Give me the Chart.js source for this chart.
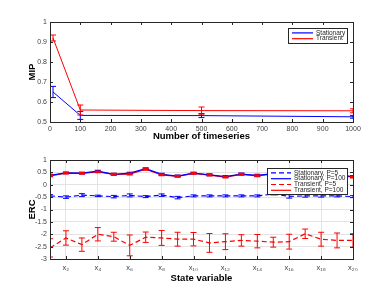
<!DOCTYPE html>
<html>
<head>
<meta charset="utf-8">
<script src="https://cdn.jsdelivr.net/npm/chart.js@4.4.1/dist/chart.umd.min.js"></script>
<style>
  html, body { margin: 0; padding: 0; background: #fff; }
  #wrap { position: relative; width: 390px; height: 293px; overflow: hidden; }
  canvas { position: absolute; left: 0; }
  #top { top: 0; }
  #bottom { top: 145px; }
</style>
</head>
<body>
<div id="wrap">
  <canvas id="top" width="390" height="145"></canvas>
  <canvas id="bottom" width="390" height="148"></canvas>
</div>
<script>
// ---------- Data: top panel (MIP vs number of timeseries) ----------
const nSeries = [10, 100, 500, 1000];
const mipStationary = [0.650, 0.533, 0.532, 0.526];
const mipStationaryErr = [0.028, 0.020, 0.010, 0.007];
const mipTransient = [0.920, 0.560, 0.557, 0.556];
const mipTransientErr = [0.015, 0.025, 0.018, 0.010];
const topTicksX = [0, 100, 200, 300, 400, 500, 600, 700, 800, 900, 1000];

// ---------- Data: bottom panel (ERC per state variable) ----------
const stateVars = Array.from({ length: 20 }, (_, i) => i + 1);
const subDigits = "₀₁₂₃₄₅₆₇₈₉";
const stateLabels = stateVars.map(n => "x" + String(n).split("").map(d => subDigits[+d]).join(""));
const labeledVars = [2, 4, 6, 8, 10, 12, 14, 16, 18, 20];

const ercStatP5 = [-0.45, -0.50, -0.42, -0.45, -0.48, -0.43, -0.48, -0.42, -0.52, -0.45,
                   -0.45, -0.45, -0.45, -0.45, -0.38, -0.47, -0.45, -0.45, -0.45, -0.48];
const ercStatP5Err = [0.05, 0.05, 0.06, 0.03, 0.05, 0.06, 0.04, 0.05, 0.05, 0.04,
                      0.04, 0.04, 0.04, 0.04, 0.03, 0.07, 0.05, 0.05, 0.04, 0.04];
const ercStatP100 = [0.38, 0.48, 0.47, 0.55, 0.42, 0.47, 0.65, 0.42, 0.35, 0.47,
                     0.40, 0.33, 0.43, 0.38, 0.45, 0.47, 0.50, 0.45, 0.40, 0.33];
const ercStatP100Err = [0.03, 0.03, 0.03, 0.03, 0.03, 0.03, 0.03, 0.03, 0.03, 0.03,
                        0.03, 0.03, 0.03, 0.03, 0.03, 0.03, 0.03, 0.03, 0.03, 0.03];
const ercTransP5 = [-2.55, -2.15, -2.42, -2.00, -2.10, -2.45, -2.12, -2.15, -2.20, -2.20,
                    -2.35, -2.30, -2.25, -2.28, -2.32, -2.30, -1.98, -2.20, -2.25, -2.25];
const ercTransP5Err = [0.37, 0.29, 0.27, 0.27, 0.18, 0.42, 0.21, 0.30, 0.28, 0.27,
                       0.38, 0.32, 0.23, 0.27, 0.20, 0.30, 0.19, 0.28, 0.30, 0.27];
const ercTransP100 = [0.36, 0.47, 0.46, 0.52, 0.42, 0.43, 0.63, 0.40, 0.34, 0.46,
                      0.39, 0.31, 0.42, 0.36, 0.44, 0.45, 0.49, 0.44, 0.39, 0.31];
const ercTransP100Err = [0.03, 0.03, 0.03, 0.03, 0.03, 0.03, 0.03, 0.03, 0.03, 0.03,
                         0.03, 0.03, 0.03, 0.03, 0.03, 0.03, 0.03, 0.03, 0.03, 0.03];

const BLUE = "#0000ff";
const RED = "#ff0000";
const TICK_COLOR = "#404040";
const FONT = "'Liberation Sans', Arial, sans-serif";

// ---------- Plugins ----------
// vertical error bars with caps, drawn through the chart scales
const errorBars = {
  id: "errorBars",
  afterDatasetsDraw(chart) {
    const ctx = chart.ctx;
    const ys = chart.scales.y;
    const a = chart.chartArea;
    chart.data.datasets.forEach((ds, i) => {
      if (!ds.errors) return;
      const meta = chart.getDatasetMeta(i);
      ctx.save();
      ctx.beginPath();
      ctx.rect(a.left, a.top, a.right - a.left, a.bottom - a.top);
      ctx.clip();
      ctx.strokeStyle = ds.borderColor;
      ctx.lineWidth = ds.errWidth || 1;
      ctx.setLineDash([]);
      meta.data.forEach((pt, j) => {
        const v = ds.data[j].y, e = ds.errors[j];
        const y1 = ys.getPixelForValue(v + e), y2 = ys.getPixelForValue(v - e);
        const c = ds.capHalf || 3;
        ctx.beginPath();
        ctx.moveTo(pt.x, y1); ctx.lineTo(pt.x, y2);
        ctx.moveTo(pt.x - c, y1); ctx.lineTo(pt.x + c, y1);
        ctx.moveTo(pt.x - c, y2); ctx.lineTo(pt.x + c, y2);
        ctx.stroke();
      });
      ctx.restore();
    });
  }
};

// box around the axes with inward tick marks (all four sides)
const axesBox = {
  id: "axesBox",
  afterDraw(chart) {
    const { ctx, chartArea: a, scales } = chart;
    ctx.save();
    ctx.strokeStyle = "#262626";
    ctx.lineWidth = 1;
    ctx.beginPath();
    scales.x.ticks.forEach(t => {
      const x = Math.round(scales.x.getPixelForValue(t.value)) + 0.5;
      ctx.moveTo(x, a.bottom); ctx.lineTo(x, a.bottom - 3);
      ctx.moveTo(x, a.top); ctx.lineTo(x, a.top + 3);
    });
    scales.y.ticks.forEach(t => {
      const y = Math.round(scales.y.getPixelForValue(t.value)) + 0.5;
      ctx.moveTo(a.left, y); ctx.lineTo(a.left + 3, y);
      ctx.moveTo(a.right, y); ctx.lineTo(a.right - 3, y);
    });
    ctx.stroke();
    ctx.strokeRect(Math.round(a.left) + 0.5, Math.round(a.top) + 0.5,
                   Math.round(a.right - a.left), Math.round(a.bottom - a.top));
    ctx.restore();
  }
};

// legend drawn inside the plot, top right
const boxLegend = {
  id: "boxLegend",
  afterDraw(chart, args, opts) {
    const { ctx, chartArea: a } = chart;
    const dsets = chart.data.datasets;
    const right = a.right - opts.inset, top = a.top + opts.insetTop;
    const left = right - opts.width;
    const h = opts.rowH * dsets.length + 3;
    ctx.save();
    ctx.fillStyle = "#fff";
    ctx.fillRect(left, top, opts.width, h);
    ctx.strokeStyle = "#262626";
    ctx.lineWidth = 1;
    ctx.strokeRect(Math.round(left) + 0.5, Math.round(top) + 0.5, Math.round(opts.width), Math.round(h));
    ctx.font = opts.fontSize + "px " + FONT;
    ctx.textBaseline = "middle";
    dsets.forEach((ds, i) => {
      const y = top + 2 + opts.rowH * (i + 0.5);
      ctx.strokeStyle = ds.borderColor;
      ctx.lineWidth = 1.2;
      ctx.setLineDash(ds.borderDash || []);
      ctx.beginPath();
      ctx.moveTo(left + 4, y); ctx.lineTo(left + 4 + opts.sample, y);
      ctx.stroke();
      ctx.setLineDash([]);
      ctx.fillStyle = "#262626";
      ctx.fillText(ds.label, left + 7 + opts.sample, y);
    });
    ctx.restore();
  }
};

Chart.register(errorBars, axesBox, boxLegend);

function pts(xs, ys) {
  return xs.map((x, i) => ({ x: x, y: ys[i] }));
}

function tickFont() {
  return { family: FONT, size: 7 };
}

// ---------- Top chart ----------
new Chart(document.getElementById("top"), {
  type: "line",
  data: {
    datasets: [
      { label: "Stationary", data: pts(nSeries, mipStationary), errors: mipStationaryErr,
        borderColor: BLUE, borderWidth: 1, pointRadius: 0, tension: 0, capHalf: 3 },
      { label: "Transient", data: pts(nSeries, mipTransient), errors: mipTransientErr,
        borderColor: RED, borderWidth: 1, pointRadius: 0, tension: 0, capHalf: 3 },
    ],
  },
  options: {
    responsive: false,
    animation: false,
    layout: { padding: { left: 27, right: 37, top: 22, bottom: 3 } },
    plugins: {
      legend: { display: false },
      tooltip: { enabled: false },
      boxLegend: { inset: 6, insetTop: 6, width: 59, rowH: 5.8, fontSize: 6.5, sample: 21 },
    },
    scales: {
      x: {
        type: "linear", min: 0, max: 1000,
        afterBuildTicks: s => { s.ticks = topTicksX.map(v => ({ value: v })); },
        afterFit: s => { s.height = 20; },
        grid: { display: false, drawTicks: false },
        border: { display: false },
        ticks: { font: tickFont(), color: TICK_COLOR, padding: 3, maxRotation: 0,
                 callback: v => String(v) },
        title: { display: true, text: "Number of timeseries", color: "#000",
                 font: { family: FONT, size: 9.5, weight: "bold" }, padding: 0 },
      },
      y: {
        min: 0.5, max: 1,
        afterFit: s => { s.width = 23; },
        grid: { display: false, drawTicks: false },
        border: { display: false },
        ticks: { stepSize: 0.1, font: tickFont(), color: TICK_COLOR, padding: 3,
                 callback: v => String(+v.toFixed(1)) },
        title: { display: true, text: "MIP", color: "#000",
                 font: { family: FONT, size: 9.5, weight: "bold" }, padding: 0 },
      },
    },
  },
});

// ---------- Bottom chart ----------
new Chart(document.getElementById("bottom"), {
  type: "line",
  data: {
    datasets: [
      { label: "Stationary, P=5", data: pts(stateVars, ercStatP5), errors: ercStatP5Err,
        borderColor: BLUE, borderWidth: 1.2, borderDash: [5, 3], pointRadius: 0, capHalf: 3 },
      { label: "Stationary, P=100", data: pts(stateVars, ercStatP100), errors: ercStatP100Err,
        borderColor: BLUE, borderWidth: 1.3, pointRadius: 0, capHalf: 3, errWidth: 1.5 },
      { label: "Transient, P=5", data: pts(stateVars, ercTransP5), errors: ercTransP5Err,
        borderColor: RED, borderWidth: 1.2, borderDash: [5, 3], pointRadius: 0, capHalf: 3 },
      { label: "Transient, P=100", data: pts(stateVars, ercTransP100), errors: ercTransP100Err,
        borderColor: RED, borderWidth: 1.3, pointRadius: 0, capHalf: 3, errWidth: 1.5 },
    ],
  },
  options: {
    responsive: false,
    animation: false,
    layout: { padding: { left: 27, right: 37, top: 15, bottom: 9 } },
    plugins: {
      legend: { display: false },
      tooltip: { enabled: false },
      boxLegend: { inset: 6, insetTop: 8, width: 80, rowH: 5.8, fontSize: 6.5, sample: 20 },
    },
    scales: {
      x: {
        type: "linear", min: 1, max: 20,
        afterBuildTicks: s => { s.ticks = labeledVars.map(v => ({ value: v })); },
        afterFit: s => { s.height = 25; },
        grid: { color: "#e3e3e3", drawTicks: false },
        border: { display: false },
        ticks: { font: { family: FONT, size: 7.5 }, color: TICK_COLOR, padding: 4, maxRotation: 0,
                 callback: v => stateLabels[v - 1] },
        title: { display: true, text: "State variable", color: "#000",
                 font: { family: FONT, size: 9.5, weight: "bold" }, padding: 0 },
      },
      y: {
        min: -3, max: 1,
        afterFit: s => { s.width = 23; },
        grid: { color: "#e3e3e3", drawTicks: false },
        border: { display: false },
        ticks: { stepSize: 0.5, font: tickFont(), color: TICK_COLOR, padding: 3,
                 callback: v => String(+v.toFixed(1)) },
        title: { display: true, text: "ERC", color: "#000",
                 font: { family: FONT, size: 9.5, weight: "bold" }, padding: 0 },
      },
    },
  },
});
</script>
</body>
</html>
